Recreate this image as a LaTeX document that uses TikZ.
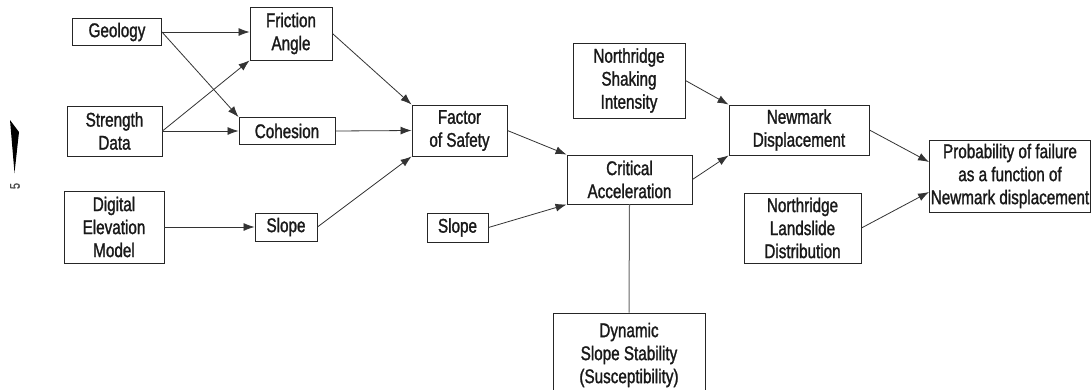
\documentclass[tikz,border=0pt]{standalone}
\usepackage{fontspec}
\setmainfont{Liberation Sans}[FakeStretch=0.77,FakeBold=1.3]
\usetikzlibrary{arrows.meta}
\begin{document}
\begin{tikzpicture}[x=1pt,y=-1pt,
  box/.style={draw=black!85, line width=0.9pt, align=center, inner sep=0pt,
              font=\fontsize{19.8}{23}\selectfont, text=black!90},
  arr/.style={-{Latex[length=11pt,width=8pt]}, draw=black!80, line width=0.8pt},
  link/.style={draw=black!60, line width=1pt}]
\clip (0,0) rectangle (1092,389);
\fill[white] (0,0) rectangle (1092,389);
% page artifact
\fill[black] (10,120) -- (19,132) -- (14.5,173) -- cycle;
\node[font=\fontsize{14}{14}\selectfont, text=black!70, rotate=90, inner sep=0pt] (pg) at (15,186) {5};
% column 1
\node[box, minimum width=89pt, minimum height=27pt] (geo) at (117,32) {Geology};
\node[box, minimum width=95pt, minimum height=50pt] (str) at (114.5,131) {Strength\\Data};
\node[box, minimum width=100pt, minimum height=72pt] (dem) at (114,227) {Digital\\Elevation\\Model};
% column 2
\node[box, minimum width=82pt, minimum height=53pt] (fric) at (291,33.5) {Friction\\Angle};
\node[box, minimum width=96pt, minimum height=27pt] (coh) at (287,131) {Cohesion};
\node[box, minimum width=62pt, minimum height=28pt] (slA) at (286,227) {Slope};
% column 3
\node[box, minimum width=95pt, minimum height=51pt] (fos) at (459.5,130.5) {Factor\\of Safety};
\node[box, minimum width=61pt, minimum height=29pt] (slB) at (457.5,227.5) {Slope};
% column 4
\node[box, minimum width=112pt, minimum height=75pt] (shk) at (629,80.5) {Northridge\\Shaking\\Intensity};
\node[box, minimum width=125pt, minimum height=49pt] (crit) at (629.5,179.5) {Critical\\Acceleration};
\node[box, minimum width=152pt, minimum height=84pt] (dyn) at (629,355) {Dynamic\\Slope Stability\\(Susceptibility)};
% column 5
\node[box, minimum width=140pt, minimum height=50pt] (nwm) at (799,130) {Newmark\\Displacement};
\node[box, minimum width=117pt, minimum height=70pt] (lds) at (802.5,228) {Northridge\\Landslide\\Distribution};
% column 6
\node[box, minimum width=161pt, minimum height=72pt] (prob) at (1010,176) {Probability of failure\\as a function of\\Newmark displacement};
% connectors
\draw[arr] (geo.east) -- (geo.east -| fric.west);
\draw[arr] (geo.east) -- (coh.north west);
\draw[arr] (str.east) -- (fric.south west);
\draw[arr] (str.east) -- (coh.west);
\draw[arr] (dem.east) -- (slA.west);
\draw[arr] (fric.east) -- (fos.north west);
\draw[arr] (coh.east) -- (fos.west);
\draw[arr] (slA.east) -- (fos.south west);
\draw[arr] (fos.east) -- (crit.north west);
\draw[arr] (slB.east) -- (crit.south west);
\draw[arr] (shk.east) -- (nwm.north west);
\draw[arr] (crit.east) -- (nwm.south west);
\draw[arr] (nwm.east) -- ([yshift=14pt]prob.west);
\draw[arr] (lds.east) -- ([yshift=-16pt]prob.west);
\draw[link] (crit.south) -- (dyn.north);
\end{tikzpicture}
\end{document}
